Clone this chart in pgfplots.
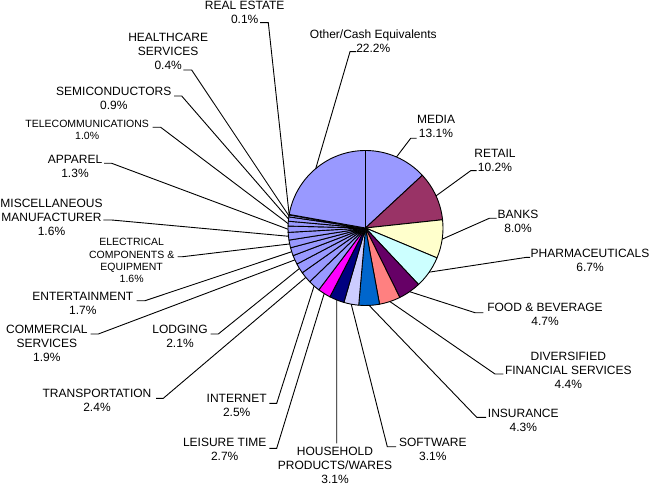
\documentclass[border=0pt]{standalone}
\usepackage{pgfplots}
\pgfplotsset{compat=1.18}
\usepackage{pgfplotstable}
\usepackage{fontspec}
\setmainfont{Liberation Sans}

\definecolor{c1}{HTML}{9999FF}
\definecolor{c2}{HTML}{993366}
\definecolor{c3}{HTML}{FFFFCC}
\definecolor{c4}{HTML}{CCFFFF}
\definecolor{c5}{HTML}{660066}
\definecolor{c6}{HTML}{FF8080}
\definecolor{c7}{HTML}{0066CC}
\definecolor{c8}{HTML}{CCCCFF}
\definecolor{c9}{HTML}{000080}
\definecolor{c10}{HTML}{FF00FF}

% value, colour, leader elbow (x,y in px from top-left), leader end x
\pgfplotstableread{
value col ex ey hx
13.1 c1 410.7 138.3 416.7
10.2 c2 470.7 170.7 476.7
8.0 c3 489.3 218.3 496.7
6.7 c4 526.7 257.3 530.0
4.7 c5 475.0 312.7 483.3
4.4 c6 495.0 374.0 503.3
4.3 c7 476.7 417.3 486.0
3.1 c8 387.3 446.7 396.0
3.1 c9 336.7 443.3 336.7
2.7 c10 276.7 448.3 269.3
2.5 c1 276.7 403.3 269.3
2.4 c1 163.3 398.3 156.0
2.1 c1 218.3 334.0 210.7
1.9 c1 98.3 334.0 90.7
1.7 c1 145.0 300.7 136.7
1.6 c1 182.7 256.7 177.7
1.6 c1 111.7 220.0 103.3
1.3 c1 111.7 163.3 104.0
1.0 c1 160.7 127.3 152.7
0.9 c1 181.7 96.0 174.0
0.4 c1 191.7 70.0 183.3
0.1 c1 268.3 22.7 260.0
22.2 c1 350.0 51.7 356.0
}\piedata

\begin{document}
\begin{tikzpicture}
\begin{axis}[width=650bp, height=483bp, scale only axis,
  xmin=0, xmax=650, ymin=0, ymax=483, hide axis, clip=false]
\coordinate (BL) at (axis cs:0,0);
\coordinate (TR) at (axis cs:650,483);
\def\cum{0}
\pgfplotsforeachungrouped \i in {0,...,22}{%
  \pgfplotstablegetelem{\i}{value}\of\piedata \let\vv\pgfplotsretval
  \pgfplotstablegetelem{\i}{col}\of\piedata \let\cc\pgfplotsretval
  \pgfplotstablegetelem{\i}{ex}\of\piedata \let\ex\pgfplotsretval
  \pgfplotstablegetelem{\i}{ey}\of\piedata \let\ey\pgfplotsretval
  \pgfplotstablegetelem{\i}{hx}\of\piedata \let\hx\pgfplotsretval
  \pgfmathsetmacro{\angA}{90-\cum*3.6}%
  \pgfmathsetmacro{\angB}{90-(\cum+\vv)*3.6}%
  \pgfmathsetmacro{\angM}{(\angA+\angB)/2}%
  \pgfmathsetmacro{\eyy}{483-\ey}%
  \edef\tmp{\noexpand\filldraw[fill=\cc, draw=black, line width=0.9bp, line join=round]
    (axis cs:365.5,255) -- ++(\angA:77.5bp) arc[start angle=\angA, end angle=\angB, radius=77.5bp] -- cycle;
    \noexpand\draw[black, line width=0.9bp] (axis cs:365.5,255) ++(\angM:77.5bp) -- (axis cs:\ex,\eyy) -- (axis cs:\hx,\eyy);}%
  \tmp
  \pgfmathsetmacro{\cum}{\cum+\vv}%
}
\tikzset{lab/.style={anchor=north, inner sep=0pt, align=center, text=black,
  font=\fontsize{12bp}{14bp}\selectfont},
  labs/.style={anchor=north, inner sep=0pt, align=center, text=black,
  font=\fontsize{10.5bp}{12.3bp}\selectfont}}
\node[lab] at (axis cs:436,483-115) {MEDIA\\13.1\%};
\node[lab] at (axis cs:495,483-149.3) {RETAIL\\10.2\%};
\node[lab] at (axis cs:518,483-210) {BANKS\\8.0\%};
\node[lab] at (axis cs:590,483-249.3) {PHARMACEUTICALS\\6.7\%};
\node[lab] at (axis cs:545,483-303.3) {FOOD \& BEVERAGE\\4.7\%};
\node[lab] at (axis cs:568.3,483-351.7) {DIVERSIFIED\\FINANCIAL SERVICES\\4.4\%};
\node[lab] at (axis cs:523.3,483-409.3) {INSURANCE\\4.3\%};
\node[lab] at (axis cs:432.8,483-438.3) {SOFTWARE\\3.1\%};
\node[lab] at (axis cs:335,483-446.5) {HOUSEHOLD\\PRODUCTS/WARES\\3.1\%};
\node[lab] at (axis cs:224.7,483-438.3) {LEISURE TIME\\2.7\%};
\node[lab] at (axis cs:236.7,483-394) {INTERNET\\2.5\%};
\node[lab] at (axis cs:97,483-389.3) {TRANSPORTATION\\2.4\%};
\node[lab] at (axis cs:180,483-325) {LODGING\\2.1\%};
\node[lab] at (axis cs:46.8,483-325) {COMMERCIAL\\SERVICES\\1.9\%};
\node[lab] at (axis cs:82.8,483-291.7) {ENTERTAINMENT\\1.7\%};
\node[labs] at (axis cs:131.7,483-238.3) {ELECTRICAL\\COMPONENTS \&\\EQUIPMENT\\1.6\%};
\node[lab] at (axis cs:51.5,483-199.3) {MISCELLANEOUS\\MANUFACTURER\\1.6\%};
\node[lab] at (axis cs:75,483-155) {APPAREL\\1.3\%};
\node[labs] at (axis cs:87.2,483-120) {TELECOMMUNICATIONS\\1.0\%};
\node[lab] at (axis cs:113.8,483-87.3) {SEMICONDUCTORS\\0.9\%};
\node[lab] at (axis cs:168.2,483-33.3) {HEALTHCARE\\SERVICES\\0.4\%};
\node[lab] at (axis cs:244.7,483-0.5) {REAL ESTATE\\0.1\%};
\node[lab] at (axis cs:373.3,483-30) {Other/Cash Equivalents\\22.2\%};
\end{axis}
\pgfresetboundingbox
\useasboundingbox (BL) rectangle (TR);
\end{tikzpicture}
\end{document}
